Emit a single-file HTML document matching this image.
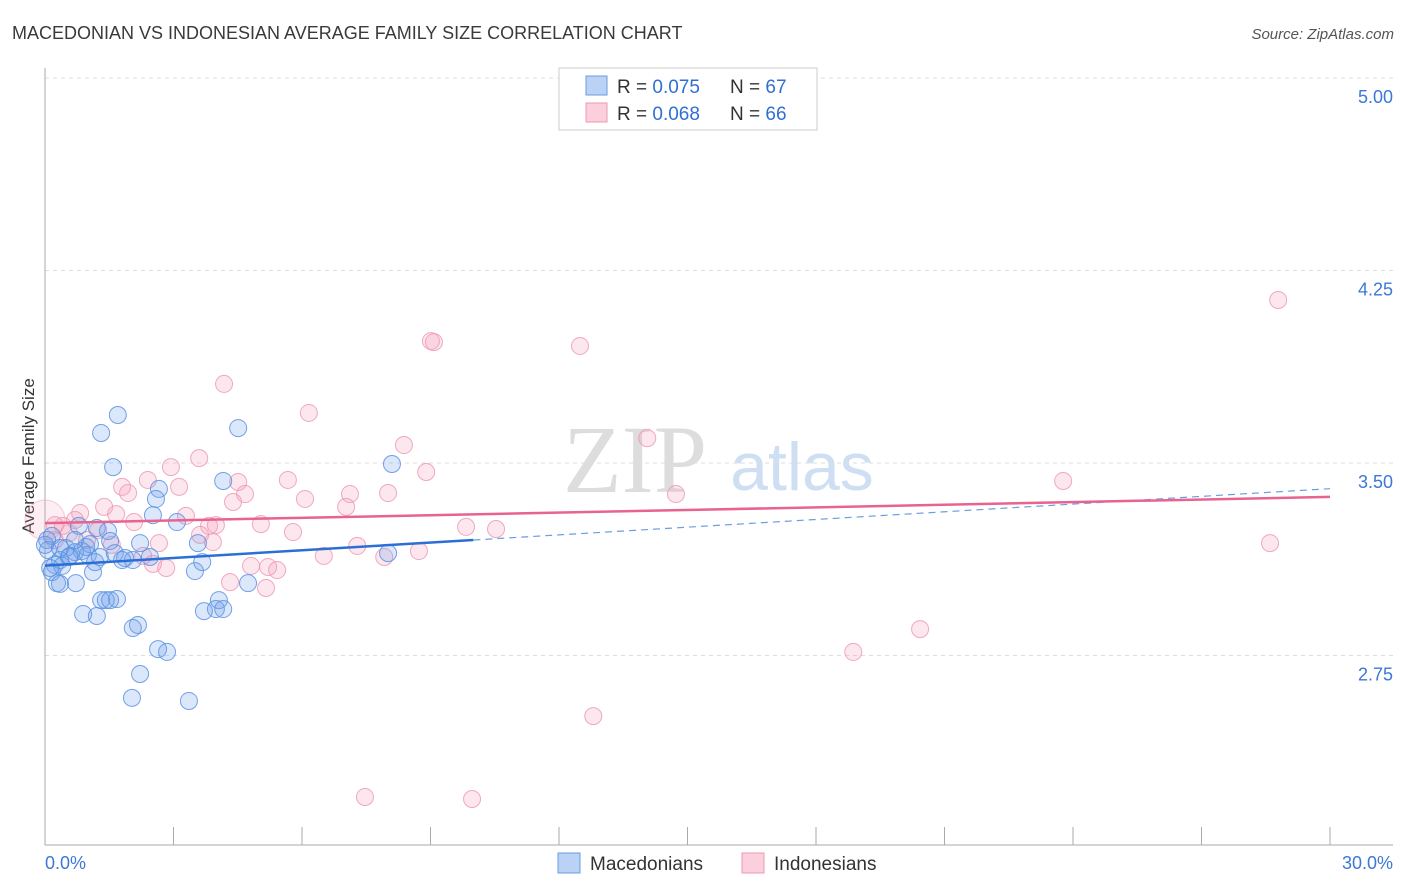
<!DOCTYPE html>
<html><head><meta charset="utf-8"><style>
body{margin:0;background:#fff;font-family:"Liberation Sans",sans-serif}
svg{display:block}
</style></head><body>
<svg id="c" width="1406" height="892" xmlns="http://www.w3.org/2000/svg">
<text x="12" y="39" font-size="18" fill="#3a3a3a">MACEDONIAN VS INDONESIAN AVERAGE FAMILY SIZE CORRELATION CHART</text>
<text x="1394" y="39" font-size="15" fill="#555" font-style="italic" text-anchor="end">Source: ZipAtlas.com</text>
<text x="34" y="456" font-size="17" fill="#333" text-anchor="middle" transform="rotate(-90 34 456)">Average Family Size</text>
<g><text x="635" y="492" font-size="96" font-family="Liberation Serif,serif" fill="#ddd" text-anchor="middle">ZIP</text><text x="802" y="490" font-size="68" fill="#cfdff3" text-anchor="middle">atlas</text></g>
<g id="grid"></g><g id="marks"></g>
<g>
<rect x="559" y="68" width="258" height="62" fill="#fff" stroke="#ccc"/>
<rect x="586" y="76" width="21" height="19" fill="#b9d2f5" stroke="#6b9de0"/>
<rect x="586" y="103" width="21" height="19" fill="#fbcfdc" stroke="#ee9ab5"/>
<text x="617" y="93" font-size="19" fill="#333">R = <tspan fill="#2f6fd4">0.075</tspan></text>
<text x="730" y="93" font-size="19" fill="#333">N = <tspan fill="#2f6fd4">67</tspan></text>
<text x="617" y="120" font-size="19" fill="#333">R = <tspan fill="#2f6fd4">0.068</tspan></text>
<text x="730" y="120" font-size="19" fill="#333">N = <tspan fill="#2f6fd4">66</tspan></text>
</g>
<g>
<rect x="558" y="853" width="22" height="20" fill="#b9d2f5" stroke="#6b9de0"/><text x="590" y="870" font-size="19" fill="#333">Macedonians</text>
<rect x="742" y="853" width="22" height="20" fill="#fbcfdc" stroke="#ee9ab5"/><text x="774" y="870" font-size="19" fill="#333">Indonesians</text>
</g>
<text x="45" y="869" font-size="18" fill="#3b78d8">0.0%</text>
<text x="1393" y="869" font-size="18" fill="#3b78d8" text-anchor="end">30.0%</text>
</svg>
<script>
const yTicks=[5.00,4.25,3.50,2.75];
const blueX=[1.70,1.31,4.51,1.59,8.10,4.16,2.66,2.59,2.52,3.08,1.21,1.47,0.79,3.57,1.05,1.52,0.16,0.05,0.49,0.70,0.86,0.58,1.00,1.28,1.63,1.87,2.05,1.80,0.35,0.23,0.12,0.40,0.56,1.12,0.16,0.28,0.35,0.72,3.67,3.50,4.74,8.01,4.06,3.99,3.71,4.16,1.68,1.31,1.42,1.52,0.89,1.21,2.17,2.05,2.64,2.85,2.22,2.03,3.36,0.07,0.00,0.35,0.96,2.22,2.45,0.70,1.17];
const blueY=[3.687,3.617,3.636,3.484,3.496,3.430,3.399,3.360,3.297,3.270,3.247,3.235,3.255,3.188,3.184,3.196,3.216,3.200,3.169,3.153,3.157,3.138,3.142,3.134,3.149,3.130,3.122,3.122,3.122,3.103,3.091,3.099,3.134,3.075,3.075,3.032,3.029,3.032,3.114,3.079,3.032,3.149,2.966,2.931,2.923,2.931,2.970,2.966,2.966,2.966,2.912,2.904,2.869,2.857,2.775,2.764,2.678,2.585,2.573,3.161,3.181,3.169,3.173,3.188,3.134,3.200,3.114];
const pinkX=[28.79,9.01,9.08,12.49,4.18,6.16,8.38,14.06,3.60,2.94,8.90,23.77,5.67,2.40,1.80,3.13,4.51,1.94,4.67,6.07,4.39,7.12,14.73,8.01,7.03,1.38,1.66,0.82,3.29,2.08,5.04,3.83,3.99,5.79,9.83,10.53,0.42,0.23,0.00,1.24,0.98,0.56,7.29,2.66,3.92,28.60,8.73,6.51,7.92,2.29,2.52,2.83,4.81,5.21,5.42,4.32,5.16,20.43,18.87,12.80,7.47,9.97,0.70,1.56,0.23,3.62];
const pinkY=[4.135,3.975,3.971,3.956,3.808,3.695,3.570,3.597,3.519,3.484,3.465,3.430,3.434,3.434,3.407,3.407,3.426,3.383,3.379,3.360,3.348,3.379,3.379,3.383,3.329,3.329,3.301,3.305,3.294,3.270,3.262,3.255,3.258,3.231,3.251,3.243,3.255,3.258,3.278,3.239,3.200,3.227,3.177,3.188,3.192,3.188,3.157,3.138,3.134,3.138,3.107,3.091,3.099,3.095,3.083,3.036,3.013,2.853,2.764,2.514,2.199,2.191,3.278,3.181,3.200,3.220];
const blueTrend=[3.10,3.40];
const pinkTrend=[3.266,3.368];
const NS='http://www.w3.org/2000/svg';
const X=v=>45+v/30*1285;
const Y=v=>463-(v-3.5)*256.7;
function mk(t,a,p){const e=document.createElementNS(NS,t);for(const k in a)e.setAttribute(k,a[k]);p.appendChild(e);return e;}
const grid=document.getElementById('grid'),marks=document.getElementById('marks');
yTicks.forEach(t=>{
 const l=mk('line',{x1:45,x2:1393,y1:Y(t),y2:Y(t),stroke:'#ddd','stroke-dasharray':'4,4'},grid);
 
 
 const tx=mk('text',{x:1393,y:Y(t)+25,'font-size':18,fill:'#3b78d8','text-anchor':'end'},grid);
 tx.textContent=t.toFixed(2);
 
 
});
mk('line',{x1:45,x2:45,y1:68,y2:845,stroke:'#aaa'},grid);
mk('line',{x1:45,x2:1393,y1:845,y2:845,stroke:'#aaa'},grid);
for(let i=0;i<=10;i++){
 const t=mk('line',{x1:X(i*3),x2:X(i*3),y1:827,y2:845,stroke:'#aaa'},grid);
 
 
}
function pts(xs,ys,fill,stroke,name){
 xs.forEach((x,i)=>{
  const big=(name==='indonesian-point'&&x===0);
  const c=mk('circle',{cx:X(x),cy:Y(ys[i]),r:big?20:8.5,fill:big?'rgba(244,160,188,0.18)':fill,stroke:stroke,'stroke-width':1,'stroke-opacity':big?0.5:0.85},marks);
  
  
 });
}
pts(pinkX,pinkY,'rgba(244,160,188,0.25)','#ee9ab5','indonesian-point');
pts(blueX,blueY,'rgba(110,160,235,0.25)','#5b92e2','macedonian-point');
const bt=v=>blueTrend[0]+(blueTrend[1]-blueTrend[0])*v/30;
const b1=mk('line',{x1:X(0),y1:Y(bt(0)),x2:X(10),y2:Y(bt(10)),stroke:'#2b6fd6','stroke-width':2.5},marks);


const b2=mk('line',{x1:X(10),y1:Y(bt(10)),x2:X(30),y2:Y(bt(30)),stroke:'#6b9de0','stroke-width':1.2,'stroke-dasharray':'7,5'},marks);


const p1=mk('line',{x1:X(0),y1:Y(pinkTrend[0]),x2:X(30),y2:Y(pinkTrend[1]),stroke:'#e8638f','stroke-width':2.5},marks);


</script>
</body></html>
